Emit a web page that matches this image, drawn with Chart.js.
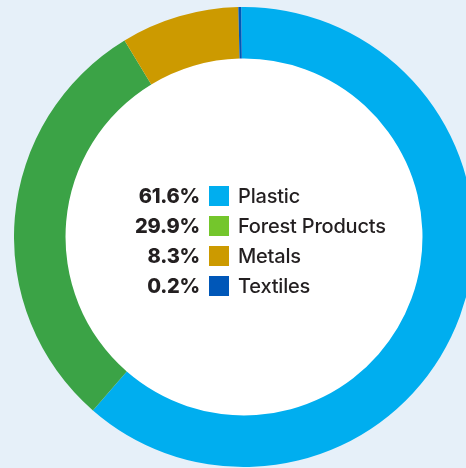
<!DOCTYPE html>
<html>
<head>
<meta charset="utf-8">
<script src="https://cdn.jsdelivr.net/npm/chart.js@4"></script>
<style>
  html, body { margin: 0; padding: 0; }
  body { width: 466px; height: 468px; background: #e6f0f9; overflow: hidden; position: relative; }
  #wrap { position: absolute; left: 13.5px; top: 7px; width: 460px; height: 460px; }
  #legend { position: absolute; left: 0; top: 180.7px; font-family: Inter, "Noto Sans", sans-serif; color: #231f20; }
  .row { position: relative; height: 30px; width: 466px; }
  .pct { position: absolute; right: 266px; top: 0; line-height: 30px; font-size: 20px; font-weight: 800; letter-spacing: -0.2px; }
  .box { position: absolute; left: 209px; top: 5px; width: 20px; height: 20px; }
  .lbl { position: absolute; left: 238px; top: 0; line-height: 30px; font-size: 20px; font-weight: 500; letter-spacing: -0.2px; }
</style>
</head>
<body>
<div id="wrap"><canvas id="donut"></canvas></div>
<div id="legend"></div>
<script>
const materials = ['Plastic', 'Forest Products', 'Metals', 'Textiles'];
const shares = [61.6, 29.9, 8.3, 0.2];
const ringColors = ['#00aeef', '#3ba346', '#cc9a00', '#0057b8'];
const legendColors = ['#00aeef', '#74c62c', '#cc9a00', '#0057b8'];

const legendBox = document.getElementById('legend');
materials.forEach(function (name, i) {
    const row = document.createElement('div');
    row.className = 'row';
    row.innerHTML = '<span class="pct">' + shares[i].toFixed(1) + '%</span>' +
        '<span class="box" style="background:' + legendColors[i] + '"></span>' +
        '<span class="lbl">' + name + '</span>';
    legendBox.appendChild(row);
});

// white disc inside the ring
const holeFill = {
    id: 'holeFill',
    beforeDatasetsDraw: function (chart) {
        const arc = chart.getDatasetMeta(0).data[0];
        if (!arc) return;
        const ctx = chart.ctx;
        ctx.save();
        ctx.fillStyle = '#ffffff';
        ctx.beginPath();
        ctx.arc(arc.x, arc.y, arc.innerRadius + 1, 0, Math.PI * 2);
        ctx.fill();
        ctx.restore();
    }
};

const donutCanvas = document.getElementById('donut');
const donutChart = new Chart(donutCanvas, {
    type: 'doughnut',
    data: {
        labels: materials,
        datasets: [{
            data: shares,
            backgroundColor: ringColors,
            borderWidth: 0
        }]
    },
    options: {
        responsive: true,
        maintainAspectRatio: false,
        animation: false,
        cutout: '77.6%',
        rotation: -0.7,
        layout: { padding: 0 },
        plugins: {
            legend: { display: false },
            tooltip: { enabled: false }
        }
    },
    plugins: [holeFill]
});
</script>
</body>
</html>
